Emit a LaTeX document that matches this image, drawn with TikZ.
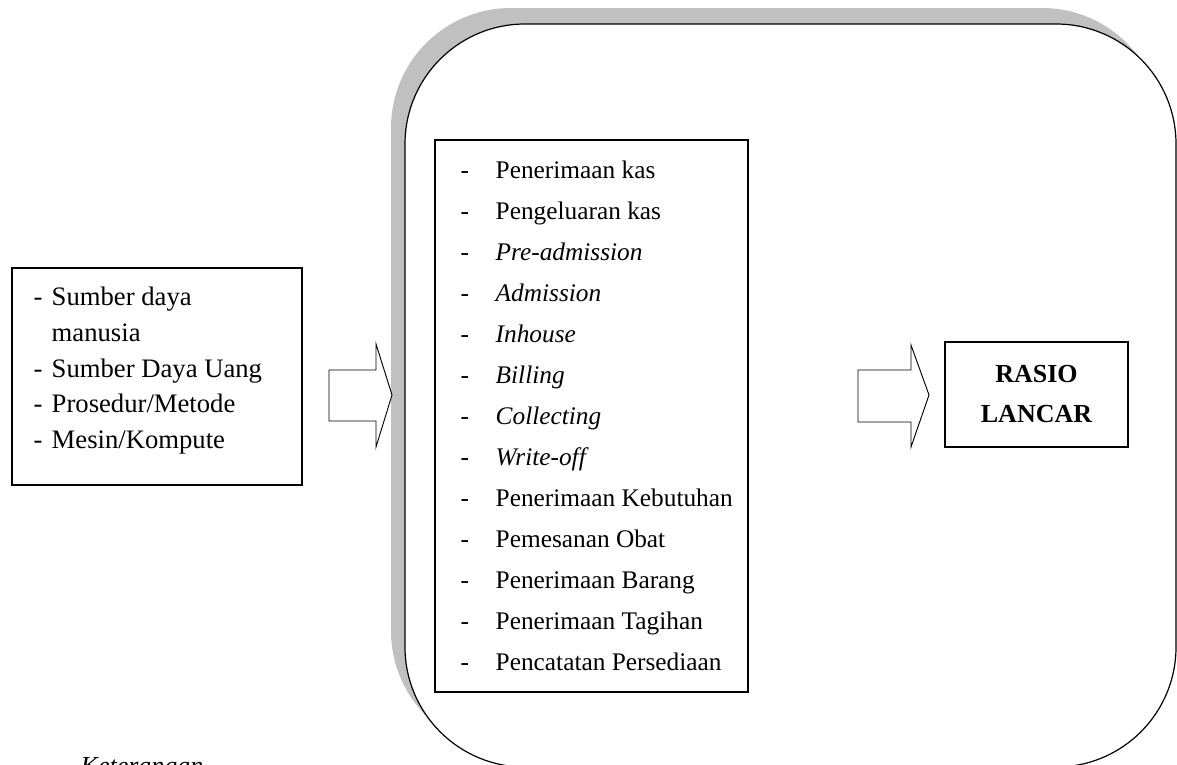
\documentclass[tikz,border=0pt]{standalone}
\usepackage{fontspec}
\setmainfont{Liberation Serif}
\usetikzlibrary{positioning}
\definecolor{shadowgray}{RGB}{192,192,192}

\begin{document}
\begin{tikzpicture}[x=0.75pt,y=-0.75pt,
	box/.style={draw,line width=0.9pt,inner sep=0pt},
	blockarrow/.style={draw,line width=0.7pt,fill=white},
	inputtext/.style={anchor=base west,font=\fontsize{20}{24}\selectfont},
	listtext/.style={anchor=base west,font=\fontsize{19}{23}\selectfont}]
	\useasboundingbox (0,0) rectangle (1177,764);

	%process frame with shadow
	\node[fill=shadowgray,rounded corners=90pt,minimum width=578.25pt,minimum height=557.25pt] (shadow) at (776.5,379.5) {};
	\node[box,fill=white,rounded corners=90pt,minimum width=578.25pt,minimum height=557.25pt] (proses) at (790.5,395.5) {};

	%input box
	\node[box,minimum width=217.5pt,minimum height=162.75pt] (input) at (157,376.5) {};
	\node[inputtext] (dashA) at (29,305) {-};
	\node[inputtext] (sdm) at (47,305) {Sumber daya};
	\node[inputtext] (sdmB) at (47,341) {manusia};
	\node[inputtext] (dashB) at (29,377) {-};
	\node[inputtext] (uang) at (47,377) {Sumber Daya Uang};
	\node[inputtext] (dashC) at (29,412) {-};
	\node[inputtext] (metode) at (47,412) {Prosedur/Metode};
	\node[inputtext] (dashD) at (29,448) {-};
	\node[inputtext] (mesin) at (47,448) {Mesin/Kompute};

	%list of activities
	\node[box,minimum width=234.75pt,minimum height=414pt] (daftar) at (591.5,416) {};
	\foreach \item [count=\i] in {Penerimaan kas,Pengeluaran kas,\textit{Pre-admission},\textit{Admission},\textit{Inhouse},\textit{Billing},\textit{Collecting},\textit{Write-off},Penerimaan Kebutuhan,Pemesanan Obat,Penerimaan Barang,Penerimaan Tagihan,Pencatatan Persediaan}
	{
		\node[listtext] (dash\i) at (456,{178+41*(\i-1)}) {-};
		\node[listtext] (item\i) at (491,{178+41*(\i-1)}) {\item};
	}

	%output box
	\node[box,minimum width=137.25pt,minimum height=78.75pt,align=center,font=\fontsize{19.5}{30}\selectfont\bfseries] (rasio) at (1036.5,394.5) {RASIO\\LANCAR};

	%block arrows
	\draw[blockarrow] (329,370) -- (376,370) -- (376,344) -- (392,395) -- (376,447) -- (376,421) -- (329,421) -- cycle; %input to process
	\draw[blockarrow] (858,370) -- (911,370) -- (911,345) -- (929,395) -- (911,447) -- (911,422) -- (858,422) -- cycle; %process to output

	%caption, cut by the page
	\node[anchor=base west,font=\fontsize{19.5}{23}\selectfont\itshape] (ket) at (76,774) {Keterangan};
\end{tikzpicture}
\end{document}
